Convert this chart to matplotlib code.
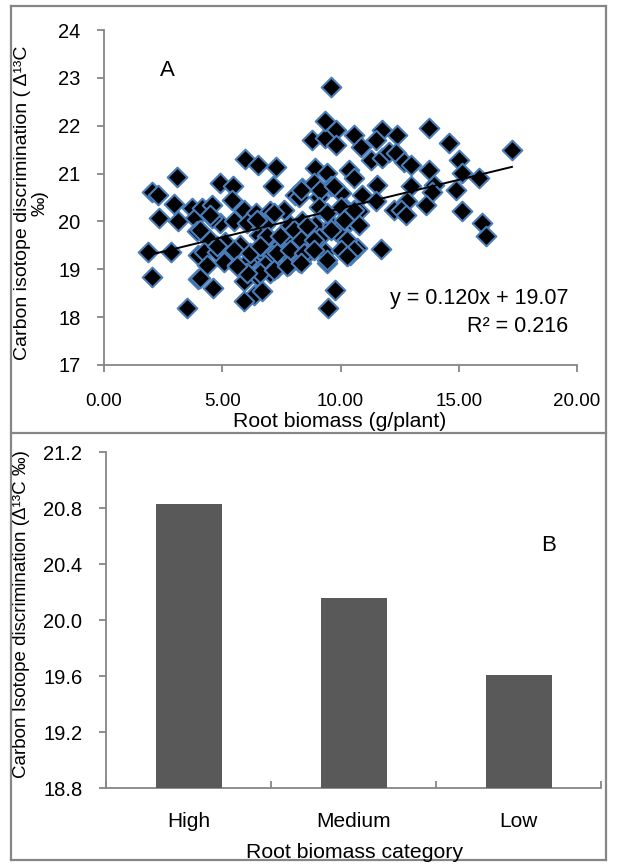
import numpy as np
import matplotlib
matplotlib.use('Agg')
import matplotlib.pyplot as plt
from matplotlib.lines import Line2D
from matplotlib.ticker import FormatStrFormatter

# panel A: root biomass (g/plant) vs carbon isotope discrimination
x_left = [3.08, 2.02, 2.27, 2.94, 3.71, 2.33, 3.12, 3.86, 3.93, 4.14, 1.88, 2.84, 3.98, 2.02, 3.97, 3.50]
y_left = [20.92, 20.62, 20.56, 20.37, 20.28, 20.07, 20.00, 20.07, 19.80, 20.28, 19.37, 19.37, 19.30, 18.83, 18.80, 18.20]

x_mid1 = [5.95, 6.50, 7.29, 7.15, 4.92, 5.45, 5.41, 4.56, 5.90, 6.44, 7.03, 7.60, 8.09, 4.92, 4.56, 5.48, 6.05,
          6.82, 7.88, 4.49, 5.13, 5.76, 6.54, 6.96, 7.46, 7.95, 4.21, 4.78, 5.34, 6.19, 6.61, 7.11, 7.67, 8.16,
          4.35, 5.06, 5.62, 6.05, 6.82, 7.32, 7.81, 4.07, 4.63, 5.90, 6.47, 7.03, 6.33, 5.90, 6.68]
y_mid1 = [21.30, 21.17, 21.13, 20.73, 20.80, 20.73, 20.45, 20.35, 20.24, 20.17, 20.21, 20.24, 20.56, 19.96, 20.07, 20.00, 19.96,
          19.93, 19.93, 19.62, 19.58, 19.51, 19.72, 19.65, 19.51, 19.62, 19.37, 19.37, 19.30, 19.20, 19.41, 19.30, 19.34, 19.37,
          19.09, 19.16, 19.09, 19.16, 19.09, 19.02, 19.09, 18.82, 18.61, 18.75, 18.85, 18.92, 18.47, 18.33, 18.54]

x_mid2 = [9.79, 10.56, 11.77, 8.80, 9.36, 9.79, 10.85, 11.48, 11.27, 11.77, 12.05, 8.94, 9.43, 10.35, 10.56, 11.55,
          8.38, 8.87, 9.58, 10.00, 10.92, 11.48, 12.25, 8.23, 9.08, 9.15, 10.21, 10.78, 8.38, 8.94, 9.65, 10.42,
          10.78, 8.38, 9.08, 9.79, 10.28, 10.70, 10.42, 8.23, 8.66, 9.36, 8.23, 9.43, 11.73, 9.76, 9.48]
y_mid2 = [21.91, 21.81, 21.91, 21.70, 21.74, 21.60, 21.56, 21.70, 21.29, 21.32, 21.46, 21.11, 21.01, 21.08, 20.90, 20.76,
          20.70, 20.80, 20.73, 20.59, 20.56, 20.42, 20.24, 20.52, 20.52, 20.28, 20.28, 20.21, 20.00, 19.93, 19.93, 20.00,
          19.93, 19.72, 19.65, 19.79, 19.58, 19.44, 19.30, 19.51, 19.37, 19.37, 19.16, 19.13, 19.42, 18.57, 18.19]

x_right = [13.74, 14.59, 12.40, 12.33, 12.68, 12.97, 15.02, 13.74, 15.15, 15.86, 13.95, 12.97, 14.87, 13.88,
           12.82, 12.54, 13.60, 12.75, 15.15, 16.00, 16.14, 17.25]
y_right = [21.95, 21.63, 21.81, 21.43, 21.25, 21.18, 21.29, 21.08, 21.01, 20.90, 20.76, 20.73, 20.66, 20.62,
           20.42, 20.24, 20.35, 20.14, 20.21, 19.96, 19.69, 21.50]

x_dense = [9.60, 9.35, 8.31, 9.15, 9.08, 9.43, 10.00, 10.56, 10.14, 7.18, 6.47, 4.49, 4.07, 6.89, 7.46, 8.02, 8.59,
           8.31, 8.87, 9.58, 10.28, 10.56, 10.00, 9.43, 10.28, 4.78, 5.48, 6.19, 6.61, 7.32, 7.88, 8.45, 8.87,
           6.61, 7.18, 7.74, 8.31, 6.05, 5.62, 9.72]
y_dense = [22.80, 22.10, 20.66, 20.66, 20.31, 20.17, 20.31, 20.24, 20.03, 20.17, 20.03, 20.14, 19.83, 19.69, 19.69, 19.83, 19.90,
           19.62, 19.62, 19.83, 19.62, 19.41, 19.41, 19.20, 19.27, 19.48, 19.41, 19.34, 19.48, 19.34, 19.41, 19.34, 19.41,
           18.92, 18.99, 19.06, 19.13, 18.92, 19.06, 20.73]

slope = 0.120
intercept = 19.07
r2 = 0.216

# panel B
categories = ['High', 'Medium', 'Low']
cat_means = [20.83, 20.16, 19.61]

root = np.array(x_left + x_mid1 + x_mid2 + x_right + x_dense)
d13c = np.array(y_left + y_mid1 + y_mid2 + y_right + y_dense)

plt.rcParams['font.family'] = ['Liberation Sans', 'DejaVu Sans']
plt.rcParams['font.size'] = 13.5

W, H = 618, 865
GRAY = '#868686'
fig = plt.figure(figsize=(W / 100, H / 100), dpi=100)


def box(l, t, r, b):  # pixel box -> figure fractions
    return [l / W, 1 - b / H, (r - l) / W, (b - t) / H]


def px(x, y):
    return x / W, 1 - y / H


def style(ax):
    for s in ['top', 'right']:
        ax.spines[s].set_visible(False)
    for s in ['left', 'bottom']:
        ax.spines[s].set_color(GRAY)
        ax.spines[s].set_linewidth(1.3)


# ---- A ----
ax1 = fig.add_axes(box(104, 30, 577, 365))
style(ax1)
ax1.scatter(root, d13c, marker='D', s=100, facecolor='black', edgecolor='#4a7ebb', linewidths=1.5, zorder=3)
xs = np.array([root.min(), root.max()])
ax1.plot(xs, slope * xs + intercept, color='black', lw=1.4, zorder=4)
ax1.set_xlim(0, 20)
ax1.set_ylim(17, 24)
ax1.set_xticks([0, 5, 10, 15, 20])
ax1.set_yticks(range(17, 25))
ax1.xaxis.set_major_formatter(FormatStrFormatter('%.2f'))
ax1.tick_params(axis='x', direction='out', length=5, width=1.3, color=GRAY, pad=15)
ax1.tick_params(axis='y', direction='out', length=5, width=1.3, color=GRAY, pad=12, labelsize=14.5)
ax1.text(0.135, 0.88, 'A', transform=ax1.transAxes, ha='center', va='center', fontsize=16)
ax1.text(0.981, 0.2, 'y = %.3fx + %.2f' % (slope, intercept), transform=ax1.transAxes,
         ha='right', va='center', fontsize=15.5)
ax1.text(0.981, 0.116, 'R² = %.3f' % r2, transform=ax1.transAxes, ha='right', va='center', fontsize=15.5)

fig.text(*px(340, 421), 'Root biomass (g/plant)', ha='center', va='center', fontsize=15.3)
fig.text(*px(31, 203), 'Carbon isotope discrimination ( Δ¹³C\n‰)', rotation=90, fontsize=14,
         ha='center', va='center', multialignment='center', linespacing=1.05)

# ---- B ----
ax2 = fig.add_axes(box(106, 452, 601, 788))
style(ax2)
pos = np.arange(len(categories))
ax2.bar(pos, cat_means, width=0.4, color='#595959', zorder=3)
ax2.set_xlim(-0.5, len(categories) - 0.5)
ax2.set_ylim(18.8, 21.2)
ax2.set_yticks(np.arange(18.8, 21.21, 0.4))
ax2.yaxis.set_major_formatter(FormatStrFormatter('%.1f'))
ax2.set_xticks(pos)
ax2.set_xticklabels(categories)
ax2.set_xticks(np.arange(-0.5, len(categories)), minor=True)
ax2.tick_params(axis='x', which='major', length=0, pad=17, labelsize=15)
ax2.tick_params(axis='x', which='minor', direction='in', length=5, width=1.3, color=GRAY)
ax2.tick_params(axis='y', direction='out', length=5, width=1.3, color=GRAY, pad=12, labelsize=14.5)
ax2.text(0.895, 0.723, 'B', transform=ax2.transAxes, ha='center', va='center', fontsize=16)

fig.text(*px(355, 852), 'Root biomass category', ha='center', va='center', fontsize=15.3)
fig.text(*px(22, 614), 'Carbon Isotope discrimination (Δ¹³C ‰)', rotation=90, ha='center', va='center')

# outer frame and divider
for (x0, y0, x1, y1) in [(11, 6, 606, 6), (11, 860, 606, 860), (11, 6, 11, 860), (606, 6, 606, 860), (11, 433, 606, 433)]:
    fig.add_artist(Line2D([x0 / W, x1 / W], [1 - y0 / H, 1 - y1 / H], color=GRAY, lw=1.6))

fig.savefig('out.png', dpi=100)
